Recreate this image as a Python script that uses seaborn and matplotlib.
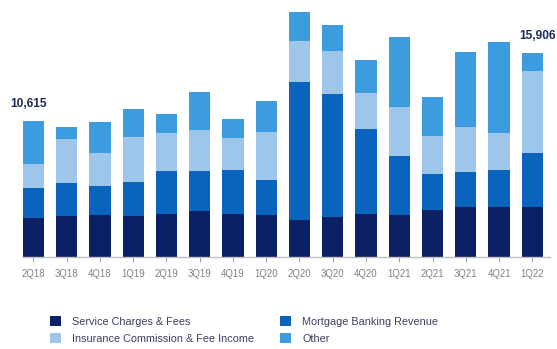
import matplotlib
matplotlib.use("Agg")
import matplotlib.pyplot as plt
from matplotlib.patches import Patch
import numpy as np
import pandas as pd
import seaborn as sns

# Noninterest income by quarter ($000s)
quarters = ["2Q18", "3Q18", "4Q18", "1Q19", "2Q19", "3Q19", "4Q19", "1Q20",
            "2Q20", "3Q20", "4Q20", "1Q21", "2Q21", "3Q21", "4Q21", "1Q22"]
service_charges = [3065, 3175, 3275, 3175, 3330, 3565, 3355, 3275,
                   2885, 3145, 3355, 3275, 3665, 3875, 3875, 3875]
mortgage_banking = [2295, 2600, 2285, 2700, 3355, 3120, 3430, 2730,
                    10790, 9595, 6605, 4600, 2810, 2775, 2910, 4210]
insurance_commission = [1895, 3410, 2525, 3510, 3010, 3200, 2475, 3765,
                        3200, 3330, 2810, 3800, 2985, 3510, 2865, 6440]
other_income = [3360, 985, 2465, 2160, 1480, 2965, 1505, 2370,
                2260, 2005, 2600, 5485, 2995, 5805, 7100, 1381]
labelled = {"2Q18": "10,615", "1Q22": "15,906"}

series_names = ["Service Charges & Fees", "Mortgage Banking Revenue",
                "Insurance Commission & Fee Income", "Other"]
series_colors = ["#0b2163", "#0a64bd", "#9dc6ea", "#3d9be0"]

df = pd.DataFrame({
    "quarter": quarters,
    series_names[0]: service_charges,
    series_names[1]: mortgage_banking,
    series_names[2]: insurance_commission,
    series_names[3]: other_income,
})
cum = df[series_names].cumsum(axis=1)

fig = plt.figure(figsize=(5.57, 3.49), dpi=100)
ax = fig.add_axes([22.7 / 557, (349 - 257) / 349, (550 - 22.7) / 557, 257 / 349])

# stacked bars: draw cumulative totals from the top layer down
for name, color in reversed(list(zip(series_names, series_colors))):
    sns.barplot(x=df["quarter"], y=cum[name], color=color, width=0.64,
                linewidth=0, saturation=1, ax=ax, order=quarters)

totals = cum[series_names[-1]]
offsets = {"2Q18": -3.5, "1Q22": 4}
for i, q in enumerate(quarters):
    if q in labelled:
        ax.annotate(labelled[q], xy=(i, totals[i]), xytext=(offsets[q], 12.5),
                    textcoords="offset points", ha="center", va="center",
                    fontsize=8.6, fontweight="bold", color="#1c2b5e",
                    family="Liberation Sans", annotation_clip=False)

ax.set_xlim(-0.32, 15.53)
ax.set_ylim(0, 257 * 78)
ax.set_xlabel("")
ax.set_ylabel("")
ax.set_yticks([])
for side in ["top", "right", "left"]:
    ax.spines[side].set_visible(False)
ax.spines["bottom"].set_color("#c0c0c0")
ax.spines["bottom"].set_linewidth(1.0)
ax.tick_params(axis="x", length=3.6, width=0.8, color="#a6a6a6", pad=5,
               labelsize=6.9, labelcolor="#808080")
for t in ax.get_xticklabels():
    t.set_family("Liberation Sans")
ax.set_facecolor("none")

handles = [Patch(facecolor=c, edgecolor="none", label=n)
           for n, c in zip(series_names, series_colors)]
fig.legend(handles=[handles[0], handles[2], handles[1], handles[3]],
           ncol=2, loc="center left", bbox_to_anchor=(50 / 557, 1 - 330 / 349),
           bbox_transform=fig.transFigure, frameon=False, borderpad=0,
           borderaxespad=0, handlelength=1.0, handleheight=1.0,
           handletextpad=1.05, columnspacing=2.4, labelspacing=0.62,
           prop={"family": "Liberation Sans", "size": 7.8},
           labelcolor="#3b4060")

fig.savefig("out.png", dpi=100)
